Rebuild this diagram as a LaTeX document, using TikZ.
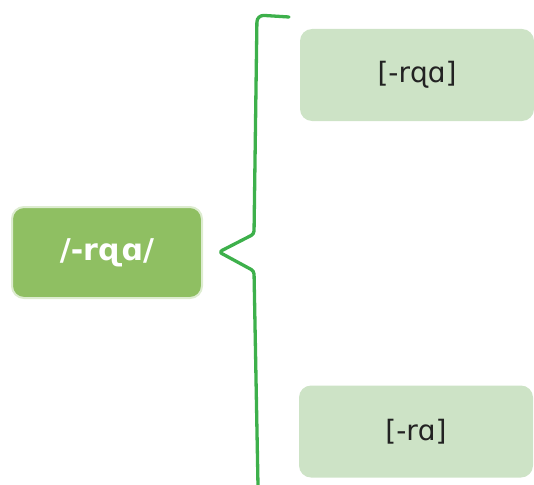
\documentclass[tikz,border=0pt]{standalone}
\usepackage{fontspec}
\setmainfont{DejaVu Sans}
\definecolor{darkbox}{HTML}{8FBF62}
\definecolor{lightbox}{HTML}{CDE3C6}
\definecolor{bracecol}{HTML}{3DB04B}
\definecolor{txt}{HTML}{222222}
\begin{document}
\begin{tikzpicture}[x=1pt,y=-1pt]
\tikzset{
  box/.style={rectangle, rounded corners=12pt, inner sep=0pt},
  rootbox/.style={box, fill=darkbox, draw=darkbox!30, line width=2pt, minimum width=190pt, minimum height=91pt, text=white, font=\fontsize{30}{34}\selectfont\bfseries},
  leafbox/.style={box, fill=lightbox, minimum width=234pt, minimum height=92pt, text=txt, font=\fontsize{28}{32}\selectfont},
  braceline/.style={draw=bracecol, line width=3.3pt, line cap=round, line join=round}
}
\useasboundingbox (0,0) rectangle (534,484);
\node[rootbox] (root) at (107,252.5) {/-rɋɑ/};
\node[leafbox] (top) at (417,75) {[-rɋɑ]};
\node[leafbox] (bot) at (416,431.5) {[-rɑ]};
\coordinate (b1) at (289,17);
\coordinate (b2) at (257,15);
\coordinate (b3) at (254,234);
\coordinate (tip) at (219,252);
\coordinate (b4) at (254,271);
\coordinate (b5) at (258,486);
\path[braceline] (b1) [rounded corners=7pt] -- (b2) [rounded corners=3pt] -- (b3) -- (tip) -- (b4) -- (b5);
\end{tikzpicture}
\end{document}
